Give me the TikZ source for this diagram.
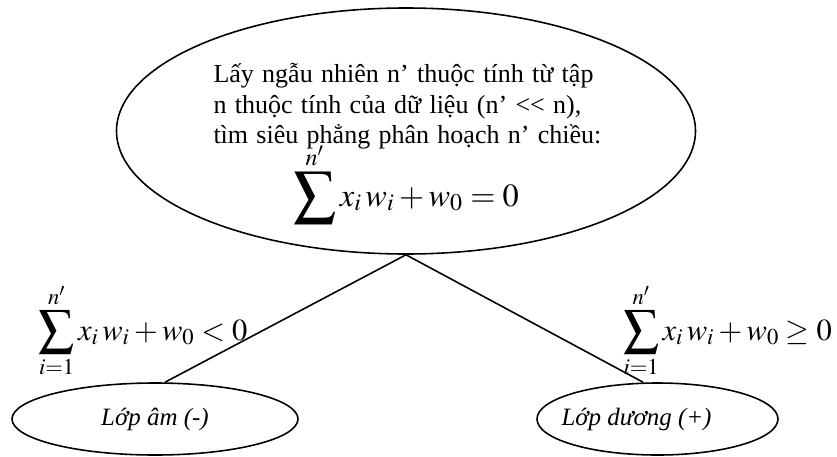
\documentclass[tikz,border=0pt]{standalone}
\usepackage{mathptmx}
\usepackage{fontspec}
\setmainfont{Liberation Serif}
\usepackage{tikz}
\usetikzlibrary{shapes.geometric}
\newcommand{\bigsigma}[1]{\mathop{\vcenter{\hbox{\scalebox{#1}{$\displaystyle\sum$}}}}}

\begin{document}
\begin{tikzpicture}[
  every node/.style={font=\fontsize{14.2}{17}\selectfont},
  split/.style={draw, ellipse, line width=0.9pt, inner sep=0pt},
  leaf/.style={draw, ellipse, line width=0.9pt, minimum height=1.44cm, inner sep=0pt},
  cond/.style={font=\fontsize{17.4}{21}\selectfont, inner sep=0pt, anchor=base},
  br/.style={line width=0.9pt}
]
\useasboundingbox (0,0) rectangle (16.74,-9.12);

% root test
\node[split, minimum width=11.58cm, minimum height=4.92cm] (root) at (8.12,-2.62) {};
\node[text width=7.7cm, align=center, inner sep=0pt] (rootTxt) at (8.12,-2.12) {%
  \fontsize{14.8}{17.6}\selectfont
  \makebox[\linewidth][s]{Lấy ngẫu nhiên n’ thuộc tính từ tập}\\
  \makebox[\linewidth][s]{n thuộc tính của dữ liệu (n’ <{}< n),}\\
  \makebox[\linewidth][s]{tìm siêu phẳng phân hoạch n’ chiều:}};
\node[cond, font=\fontsize{18.4}{22}\selectfont] (rootEq) at (8.12,-4.12)
  {$\bigsigma{1.3}\limits^{n'} x_i\,w_i + w_0 = 0$};

% leaves
\node[leaf, minimum width=5.72cm] (neg) at (3.10,-8.38) {\textit{Lớp âm (-)}};
\node[leaf, minimum width=4.82cm] (pos) at (13.15,-8.38) {};
\node (posTxt) at (12.73,-8.38) {\textit{Lớp dương (+)}};

% branches
\draw[br] (root.south) -- ([xshift=0.2cm]neg.north);
\draw[br] (root.south) -- ([xshift=-0.29cm]pos.north);

\node[cond] (lessF) at (2.86,-6.8) {$\bigsigma{1.15}\limits_{i=1}^{n'} x_i\,w_i + w_0 < 0$};
\node[cond] (geqF) at (14.55,-6.8) {$\bigsigma{1.15}\limits_{i=1}^{n'} x_i\,w_i + w_0 \geq 0$};

\end{tikzpicture}
\end{document}
